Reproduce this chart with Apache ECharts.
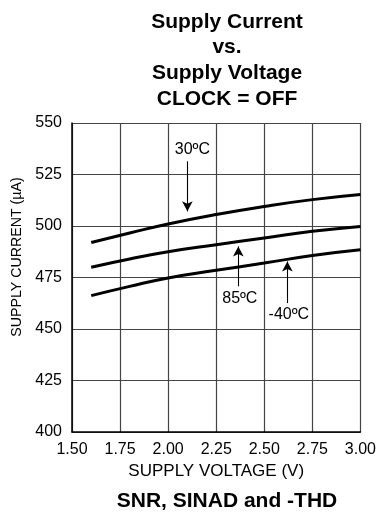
<!DOCTYPE html>
<html><head><meta charset="utf-8">
<script src="https://cdn.jsdelivr.net/npm/echarts@6/dist/echarts.min.js"></script>
<style>html,body{margin:0;padding:0;background:#fff}#c{width:379px;height:521px}</style>
</head><body><div id="c"></div>
<script>
const voltages = [1.6, 1.8, 2.0, 2.25, 2.5, 2.75, 3.0];
const temp30 = [492, 496.6, 501, 505.6, 509.5, 512.8, 515.3];
const temp85 = [480, 484, 487.5, 490.9, 494.2, 497.4, 499.8];
const tempM40 = [466.2, 470.7, 474.8, 478.5, 482, 485.7, 488.5];
const seriesNames = ['30ºC', '85ºC', '-40ºC'];
// arrow annotations: [x, tailY, tipY]
const arrows = [[2.10, 531.4, 507.1], [2.365, 470.7, 490.1], [2.62, 462.6, 482.8]];

const font = 'Liberation Sans, Arial, sans-serif';
const chart = echarts.init(document.getElementById('c'), null, {renderer:'canvas'});
function pairs(vals){ return voltages.map((v,i)=>[v, vals[i]]); }
const labelPads = [[0,0,0,10],[0,0,0,3],[0,0,0,3]];
function arrowLine(a, name, i){
  return {
    silent: true, symbol: ['none','arrow'], symbolSize: [8, 10],
    lineStyle: {color:'#000', width:1.1, type:'solid'},
    label: {show:true, position:'start', formatter:name, color:'#000', fontFamily:font, fontSize:16, distance:4, padding:labelPads[i]},
    data: [[{coord:[a[0], a[1]]},{coord:[a[0], a[2]]}]]
  };
}
const datasets = [temp30, temp85, tempM40];
chart.setOption({
  animation:false,
  title:[
    {text:'Supply Current\nvs.\nSupply Voltage\nCLOCK = OFF', left:222, top:4, textAlign:'center',
     textStyle:{fontFamily:font, fontWeight:'bold', fontSize:21, lineHeight:25.8, color:'#000'}},
    {text:'SNR, SINAD and -THD', left:222, top:486, textAlign:'center',
     textStyle:{fontFamily:font, fontWeight:'bold', fontSize:21, color:'#000'}}
  ],
  grid:{left:72, right:17, top:123, bottom:89},
  xAxis:{type:'value', min:1.5, max:3.0, interval:0.25,
    name:'SUPPLY VOLTAGE (V)', nameLocation:'middle', nameGap:30,
    nameTextStyle:{fontFamily:font, fontSize:17, color:'#000'},
    axisLine:{lineStyle:{color:'#000', width:1.5}}, axisTick:{show:false},
    axisLabel:{fontFamily:font, fontSize:16, color:'#000', margin:10, formatter:(v)=>v.toFixed(2)},
    splitLine:{show:true, lineStyle:{color:'#444', width:1.2}}},
  yAxis:{type:'value', min:400, max:550, interval:25,
    axisLine:{show:true, lineStyle:{color:'#000', width:1.5}}, axisTick:{show:false},
    axisLabel:{fontFamily:font, fontSize:16, color:'#000', margin:10},
    splitLine:{show:true, lineStyle:{color:'#444', width:1.2}}},
  graphic:[{type:'text', x:17, y:257, rotation:Math.PI/2,
    style:{text:'SUPPLY CURRENT (µA)', fontFamily:font, fontSize:14.2, fill:'#000', textAlign:'center', textVerticalAlign:'middle'}}],
  series: datasets.map((d,i)=>({
    type:'line', name:seriesNames[i], data:pairs(d), smooth:true, showSymbol:false,
    lineStyle:{color:'#000', width:3}, z:3,
    markLine: arrowLine(arrows[i], seriesNames[i], i)
  }))
});
</script></body></html>
